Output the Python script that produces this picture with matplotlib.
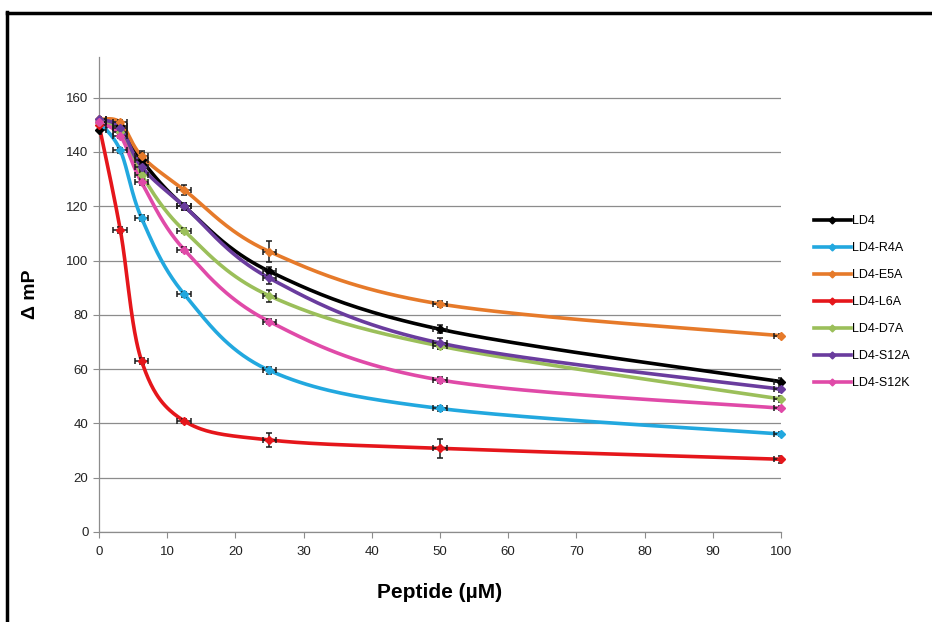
"""Fluorescence polarisation titration: change in mP vs peptide concentration."""
import matplotlib.pyplot as plt
import numpy as np
from matplotlib.lines import Line2D

plt.rcParams['font.family'] = ['Liberation Sans', 'DejaVu Sans']

# peptide concentrations (uM)
conc = [0, 3.125, 6.25, 12.5, 25, 50, 100]

series_names = ['LD4', 'LD4-R4A', 'LD4-E5A', 'LD4-L6A', 'LD4-D7A', 'LD4-S12A', 'LD4-S12K']
series_colors = ['#000000', '#22A8DF', '#E67A2A', '#E5161B', '#9BBF5A', '#6A3C9E', '#E04AA8']

ld4 = [148, 149.5, 137, 120, 96, 74.7, 55.4]
ld4_r4a = [151, 140.6, 115.6, 87.6, 59.5, 45.5, 36.1]
ld4_e5a = [152, 150.9, 138.5, 126, 103.3, 84, 72.3]
ld4_l6a = [150, 111.3, 63, 40.9, 33.9, 30.8, 26.8]
ld4_d7a = [151, 147.5, 131.5, 111, 87, 68.5, 49]
ld4_s12a = [152, 149, 134.5, 120, 93.5, 69.6, 52.6]
ld4_s12k = [151, 146, 128.8, 104, 77.5, 56, 45.6]

# standard deviation of each point (mP)
ld4_err = [1.5, 1.0, 3.4, 1.2, 1.5, 1.5, 1.2]
ld4_r4a_err = [1.0, 1.0, 1.0, 1.0, 1.2, 0.8, 0.8]
ld4_e5a_err = [1.0, 1.0, 1.0, 1.7, 3.9, 1.0, 0.8]
ld4_l6a_err = [1.0, 1.0, 1.0, 0.8, 2.5, 3.4, 1.2]
ld4_d7a_err = [1.0, 1.0, 1.0, 1.0, 2.3, 1.2, 1.0]
ld4_s12a_err = [1.0, 1.0, 1.0, 1.2, 2.0, 2.0, 1.0]
ld4_s12k_err = [1.0, 1.0, 1.0, 1.0, 1.0, 1.0, 0.8]

conc_err = 1.0

all_values = [ld4, ld4_r4a, ld4_e5a, ld4_l6a, ld4_d7a, ld4_s12a, ld4_s12k]
all_errs = [ld4_err, ld4_r4a_err, ld4_e5a_err, ld4_l6a_err, ld4_d7a_err, ld4_s12a_err, ld4_s12k_err]

XMAX, YMAX = 100, 175


def smooth_curve(xs, ys, sx, sy, n=40):
    """Spreadsheet-style smoothed line: cubic Bezier through points with
    Catmull-Rom tangents, computed in screen-like (scaled) coordinates."""
    p = np.column_stack([np.asarray(xs, float) * sx, np.asarray(ys, float) * sy])
    pts = np.vstack([p[0], p, p[-1]])
    out = []
    t = np.linspace(0, 1, n)[:, None]
    for i in range(1, len(pts) - 2):
        p0, p1, p2, p3 = pts[i - 1], pts[i], pts[i + 1], pts[i + 2]
        c1 = p1 + (p2 - p0) / 6.0
        c2 = p2 - (p3 - p1) / 6.0
        seg = ((1 - t) ** 3) * p1 + 3 * ((1 - t) ** 2) * t * c1 + 3 * (1 - t) * t ** 2 * c2 + t ** 3 * p2
        out.append(seg if i == 1 else seg[1:])
    out = np.vstack(out)
    return out[:, 0] / sx, out[:, 1] / sy


fig = plt.figure(figsize=(9.32, 6.22), dpi=100)
ax = fig.add_axes([0.1062, 0.1447, 0.7318, 0.7637])

# scale factors so the smoothing works in pixel space
sx = 682 / XMAX
sy = 475 / YMAX

for name, color, vals, errs in zip(series_names, series_colors, all_values, all_errs):
    cx, cy = smooth_curve(conc, vals, sx, sy)
    ax.plot(cx, cy, color=color, lw=2.6, zorder=3, solid_capstyle='round', clip_on=False)
    ax.errorbar(conc, vals, yerr=errs, xerr=conc_err, fmt='none', ecolor='#1a1a1a',
                elinewidth=1.1, capsize=2.2, capthick=1.1, zorder=4)
    ax.plot(conc, vals, linestyle='none', marker='D', markersize=4, color=color,
            markeredgecolor=color, zorder=5, clip_on=False)

ax.set_xlim(0, XMAX)
ax.set_ylim(0, YMAX)
ax.set_xticks(np.arange(0, 101, 10))
ax.set_yticks(np.arange(0, 161, 20))
ax.yaxis.grid(True, color='#8c8c8c', lw=0.9)
ax.set_axisbelow(True)
for side in ['top', 'right']:
    ax.spines[side].set_visible(False)
for side in ['left', 'bottom']:
    ax.spines[side].set_color('#8c8c8c')
    ax.spines[side].set_linewidth(0.9)
ax.tick_params(axis='both', direction='out', length=4, color='#8c8c8c', labelsize=9.5,
               labelcolor='#222222')
ax.tick_params(axis='x', pad=6)

ax.set_xlabel('Peptide (µM)', fontsize=15, fontweight='bold', labelpad=18)
ax.set_ylabel('Δ mP', fontsize=14, fontweight='bold', labelpad=20)

handles = [Line2D([0], [0], color=c, lw=2.6, marker='D', markersize=3.5) for c in series_colors]
fig.legend(handles, series_names, loc='upper left', bbox_to_anchor=(0.861, 0.672),
           frameon=False, fontsize=9, labelspacing=1.2, handlelength=3.0,
           handletextpad=0.1, borderpad=0.4)

# outer frame (left and top edges)
fig.add_artist(Line2D([0.0075, 0.0075], [0.0, 0.98], color='black', lw=2.5,
                      transform=fig.transFigure))
fig.add_artist(Line2D([0.0075, 1.0], [0.979, 0.979], color='black', lw=2.5,
                      transform=fig.transFigure))

fig.savefig('out.png', dpi=100)
